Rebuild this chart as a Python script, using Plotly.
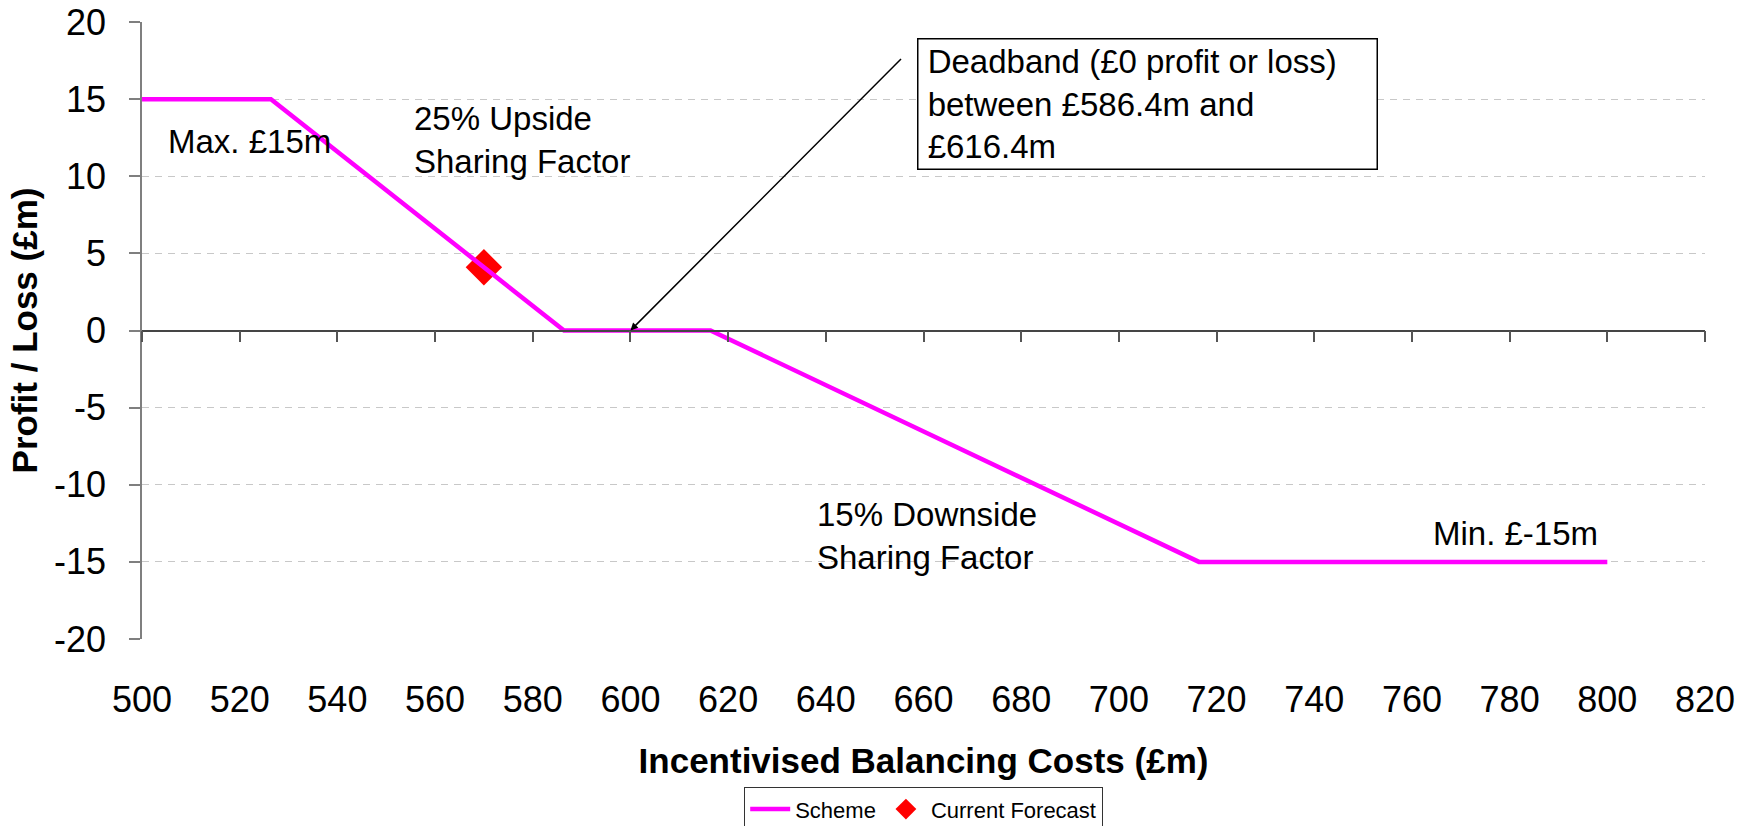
import plotly.graph_objects as go

# scheme breakpoints (£m)
scheme_x = [500, 526.4, 586.4, 616.4, 716.4, 800]
scheme_y = [15, 15, 0, 0, -15, -15]

forecast_x = [570]
forecast_y = [4.1]

x_ticks = list(range(500, 821, 20))
y_ticks = list(range(-20, 21, 5))
y_ticktext = [str(v) for v in y_ticks]  # plain hyphen minus like Excel

FONT = "Liberation Sans, Arial, sans-serif"
AXIS_GREY = "#7f7f7f"

fig = go.Figure()

fig.add_trace(go.Scatter(
    x=scheme_x, y=scheme_y, mode="lines", name="Scheme",
    line=dict(color="#FF00FF", width=4.5),
    xaxis="x2", yaxis="y",
))
fig.add_trace(go.Scatter(
    x=forecast_x, y=forecast_y, mode="markers", name="Current Forecast",
    marker=dict(symbol="diamond", color="#FF0000", size=28, line=dict(width=0)),
))

annots = [
    dict(x=505, y=12.24, text="Max. £15m", xanchor="left", yanchor="middle"),
    dict(x=555.2, y=12.35, text="25% Upside<br>Sharing Factor", xanchor="left",
         yanchor="middle", align="left"),
    dict(x=637.7, y=-13.32, text="15% Downside<br>Sharing Factor", xanchor="left",
         yanchor="middle", align="left"),
    dict(x=798.4, y=-13.13, text="Min. £-15m", xanchor="right", yanchor="middle"),
    dict(x=658.6, y=18.96,
         text="&nbsp;Deadband (£0 profit or loss)<br>&nbsp;between £586.4m and<br>&nbsp;£616.4m",
         xanchor="left", yanchor="top", align="left", width=458, height=129,
         bordercolor="black", borderwidth=1.5, borderpad=0, bgcolor="white"),
]
for a in annots:
    a.update(xref="x", yref="y", showarrow=False,
             font=dict(family=FONT, size=33, color="black"))
    fig.add_annotation(**a)

# arrow pointing into the deadband
fig.add_annotation(
    x=600, y=0, ax=655.7, ay=17.7, xref="x", yref="y", axref="x", ayref="y",
    text="", showarrow=True, arrowhead=2, arrowsize=1, arrowwidth=1.5,
    arrowcolor="black",
)

fig.update_layout(
    width=1757, height=826,
    margin=dict(l=142, r=52, t=22, b=187, autoexpand=False),
    paper_bgcolor="white", plot_bgcolor="white",
    font=dict(family=FONT, color="black"),
    showlegend=True,
    legend=dict(
        orientation="h", x=0.5, xanchor="center", y=-0.240, yanchor="top",
        bordercolor="#333333", borderwidth=1.2,
        font=dict(family=FONT, size=22, color="black"),
        itemwidth=40,
    ),
    xaxis=dict(
        range=[500, 820], tickvals=x_ticks, showgrid=False, zeroline=False,
        showline=False, ticks="", ticklabelstandoff=36, automargin=False,
        tickfont=dict(family=FONT, size=36, color="black"),
        title=dict(text="<b>Incentivised Balancing Costs (£m)</b>",
                   font=dict(family=FONT, size=35, color="black"), standoff=29),
    ),
    xaxis2=dict(
        range=[500, 820], tickvals=x_ticks, overlaying="x", anchor="free",
        position=0.5, side="bottom", showgrid=False, zeroline=False,
        showline=True, linecolor="#454545", linewidth=1.5,
        ticks="outside", ticklen=11, tickcolor="#555555", tickwidth=1.5,
        showticklabels=False,
    ),
    yaxis=dict(
        range=[-20, 20], tickvals=y_ticks, ticktext=y_ticktext, showgrid=True,
        gridcolor="#c8c8c8", griddash="7px,6px", gridwidth=1.2,
        zeroline=False, showline=True, linecolor=AXIS_GREY, linewidth=1.5,
        ticks="outside", ticklen=11, tickcolor=AXIS_GREY, tickwidth=1.5,
        ticklabelstandoff=16, automargin=False,
        tickfont=dict(family=FONT, size=36, color="black"),
        title=dict(text="<b>Profit / Loss (£m)</b>",
                   font=dict(family=FONT, size=35, color="black"), standoff=6),
    ),
)

# drop the default 8px page margin so the figure sits at the window origin
fig.write_html("out.html", config={"displayModeBar": False},
               post_script="document.body.style.margin='0';")
